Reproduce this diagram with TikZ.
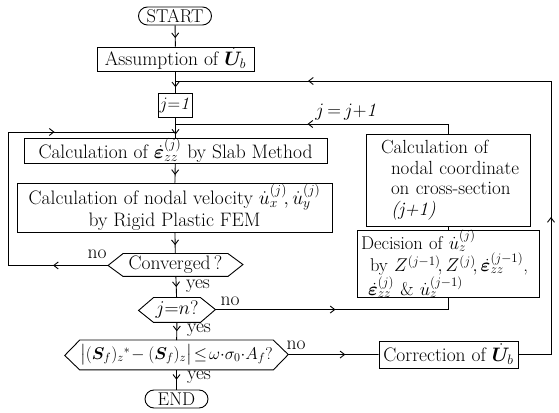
\RequirePackage{fix-cm}
\documentclass[tikz,border=0pt]{standalone}
\usepackage{amsmath,bm}
\usetikzlibrary{calc,shapes.misc,arrows.meta,decorations.markings}
\tikzset{
  ma/.style={postaction={decorate},decoration={markings,mark=at position #1 with {\arrow{Straight Barb[length=4.5pt,width=7pt]}}}},
  mb/.style 2 args={postaction={decorate},decoration={markings,mark=at position #1 with {\arrow{Straight Barb[length=4.5pt,width=7pt]}},mark=at position #2 with {\arrow{Straight Barb[length=4.5pt,width=7pt]}}}},
  box/.style={draw,rectangle,inner sep=0pt},
  term/.style={draw,rounded rectangle,inner sep=0pt},
  hx/.style={rectangle,inner sep=0pt},
  lbl/.style={inner sep=0pt},
}
\begin{document}
\begin{tikzpicture}[x=1pt,y=1pt,line width=0.9pt,font=\fontsize{19.5}{22}\selectfont]
\useasboundingbox (0,0) rectangle (559,412);
% spine nodes
\node[term,minimum width=73pt,minimum height=18pt,font=\fontsize{18.5}{20}\selectfont] (start) at (175,396) {START};
\node[box,minimum width=157pt,minimum height=24pt] (assume) at (175.5,353) {Assumption of $\dot{\bm U}_b$};
\node[box,minimum width=31pt,minimum height=24pt,inner xsep=1pt,font=\fontsize{17.5}{20}\selectfont] (j1) at (175.5,307) {$j{=}\mathit{1}$};
\node[box,minimum width=303pt,minimum height=25pt] (slab) at (175.5,261.5) {Calculation of ${\dot{\bm\varepsilon}_{zz}}^{(j)}$ by Slab Method};
\node[box,minimum width=315pt,minimum height=49pt,align=center] (fem) at (174.5,204.5) {Calculation of nodal velocity ${\dot u_x}^{(j)}\!, {\dot u_y}^{(j)}$\\by Rigid Plastic FEM};
\node[hx,minimum width=104pt,minimum height=22pt] (conv) at (175.5,147) {Converged\,?};
\draw (conv.north west) -- (conv.north east) -- ++(15,-11) coordinate (conv-R) -- (conv.south east) -- (conv.south west) -- ++(-15,11) coordinate (conv-L) -- cycle;
\node[hx,minimum width=46pt,minimum height=24pt] (jn) at (177,102) {$j{=}n?$};
\draw (jn.north west) -- (jn.north east) -- ++(15,-12) coordinate (jn-R) -- (jn.south east) -- (jn.south west) -- ++(-15,12) coordinate (jn-L) -- cycle;
\node[hx,minimum width=177pt,minimum height=29pt,font=\fontsize{17}{20}\selectfont] (cond) at (176.5,57) {$\bigl|(\bm S_f)_z{}^{*}\!-(\bm S_f)_z\bigr|\!\le\!\omega{\cdot}\sigma_0{\cdot}A_f?$};
\draw (cond.north west) -- (cond.north east) -- ++(15,-14.5) coordinate (cond-R) -- (cond.south east) -- (cond.south west) -- ++(-15,14.5) coordinate (cond-L) -- cycle;
\node[term,minimum width=63pt,minimum height=18pt,font=\fontsize{18.5}{20}\selectfont] (endn) at (176.5,13) {END};
% right column
\node[box,minimum width=164pt,minimum height=92pt,align=left,text width=152pt,font=\fontsize{19}{20.5}\selectfont] (nodal) at (448,232) {\hspace*{9pt}Calculation of\\\hspace*{19pt}nodal coordinate\\\hspace*{19pt}on cross-section\\\hspace*{19pt}\textit{(j+1)}};
\node[box,minimum width=182pt,minimum height=66pt,align=left,text width=174pt,font=\fontsize{18.5}{20.5}\selectfont] (dec) at (448,148) {Decision of ${\dot u_z}^{(j)}$\\\hspace*{9pt}by $Z^{(j-1)}\!, Z^{(j)}\!, {\dot{\bm\varepsilon}_{zz}}^{(j-1)}$,\\\hspace*{7pt}${\dot{\bm\varepsilon}_{zz}}^{(j)}$ \& ${\dot u_z}^{(j-1)}$};
\node[box,minimum width=139pt,minimum height=27pt] (corr) at (448.5,57.5) {Correction of $\dot{\bm U}_b$};
% junction coordinates
\coordinate (jA) at (175.5,331);
\coordinate (jB) at (175.5,288);
\coordinate (jC) at (175.5,280);
\coordinate (lx) at (8,0);
\coordinate (rx) at (551,0);
% spine connectors
\draw[ma=0.6] (start) -- (assume);
\draw[ma=0.75] (assume) -- (j1);
\draw[ma=0.85] (j1) -- (slab);
\draw[ma=0.6] (slab) -- (fem);
\draw[ma=0.6] (fem) -- (conv);
\draw[ma=0.5] (conv) -- (jn);
\draw[ma=0.5] (jn) -- (cond);
\draw[ma=0.5] (cond) -- (endn);
% left loop
\draw[mb={55pt}{280pt}] (conv-L) -- (lx |- conv-L) -- (lx |- jC) -- (jC);
% j = j+1 loop
\draw[ma=150pt] (nodal.north) |- (jB);
\draw (dec.north) -- (nodal.south);
\draw[ma=120pt] (jn-R) -| (dec.south);
% correction
\draw[ma=57pt] (cond-R) -- (corr.west);
\draw[mb={170pt}{549pt}] (corr.east) -| (rx |- jA) -- (jA);
% labels
\node[lbl] (no1) at (97,158) {no};
\node[lbl] (yes1) at (198,126) {yes};
\node[lbl] (no2) at (230,111) {no};
\node[lbl] (yes2) at (199,82) {yes};
\node[lbl] (no3) at (296,67) {no};
\node[lbl] (yes3) at (199,35) {yes};
\node[lbl,font=\fontsize{19}{21}\selectfont] (jinc) at (347,300) {$j\,{=}\,j{+}\mathit{1}$};
\end{tikzpicture}
\end{document}
